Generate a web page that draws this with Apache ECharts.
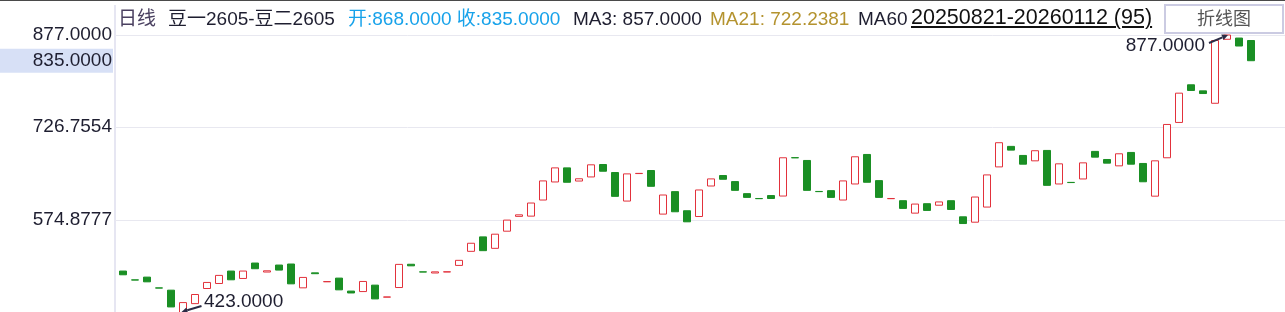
<!DOCTYPE html>
<html><head><meta charset="utf-8">
<script src="https://cdn.jsdelivr.net/npm/echarts@6/dist/echarts.min.js"></script>
<style>
html,body{margin:0;padding:0;background:#fff;}
#wrap{position:relative;width:1285px;height:312px;overflow:hidden;font-family:"Liberation Sans","Noto Sans CJK SC",Arial,sans-serif;}
#topline{position:absolute;left:0;top:0;width:1285px;height:1px;background:#4a4a4a;}
#vline{position:absolute;left:114px;top:5px;width:2px;height:307px;background:#e6e6f2;}
#chart{position:absolute;left:0;top:0;width:1285px;height:312px;}
.h{position:absolute;top:7px;line-height:24px;font-size:19px;white-space:nowrap;color:#1e1e30;}
#range{font-size:21.5px;top:5px;color:#111;text-decoration:underline;text-decoration-thickness:1.5px;text-underline-offset:2px;}
#btn{position:absolute;left:1164px;top:4px;width:116px;height:26px;border:2px solid #cbcbe2;background:#fff;color:#555;font-size:18px;line-height:26px;text-align:center;}
</style></head>
<body>
<div id="wrap">
  <div id="vline"></div>
  <div id="chart"></div>
  <div id="topline"></div>
  <div class="h" id="hPeriod" style="left:118px;color:#4a4060;"></div>
  <div class="h" id="hName" style="left:168px;"></div>
  <div class="h" id="hOC" style="left:348px;color:#17a2ea;"></div>
  <div class="h" id="hMA3" style="left:573px;"></div>
  <div class="h" id="hMA21" style="left:710px;color:#b4932f;"></div>
  <div class="h" id="hMA60" style="left:858px;"></div>
  <div class="h" id="range" style="left:911px;"></div>
  <div id="btn"></div>
</div>
<script>
// ---------- data ----------
const dates = [
 '20250821','20250822','20250825','20250826','20250827','20250828','20250829',
 '20250901','20250902','20250903','20250904','20250905','20250908','20250909','20250910','20250911','20250912',
 '20250915','20250916','20250917','20250918','20250919','20250922','20250923','20250924','20250925','20250926','20250929','20250930',
 '20251009','20251010','20251013','20251014','20251015','20251016','20251017','20251020','20251021','20251022','20251023','20251024',
 '20251027','20251028','20251029','20251030','20251031',
 '20251103','20251104','20251105','20251106','20251107','20251110','20251111','20251112','20251113','20251114',
 '20251117','20251118','20251119','20251120','20251121','20251124','20251125','20251126','20251127','20251128',
 '20251201','20251202','20251203','20251204','20251205','20251208','20251209','20251210','20251211','20251212',
 '20251215','20251216','20251217','20251218','20251219','20251222','20251223','20251224','20251225','20251226',
 '20251229','20251230','20251231',
 '20260105','20260106','20260107','20260108','20260109','20260112'
];
const opens = [
 491.5,477.1,481.6,464.0,460.3,423.0,438.3,463.0,471.2,491.5,
 479.4,504.6,489.9,501.3,503.0,464.1,488.6,474.0,480.0,458.8,
 458.0,468.5,448.9,464.6,502.6,490.2,488.3,490.0,500.7,523.7,
 547.3,528.6,556.6,580.8,581.2,607.5,637.0,660.0,638.5,645.2,
 665.5,652.4,605.8,650.7,655.7,584.5,621.2,590.0,580.6,630.4,
 647.5,637.6,617.9,610.0,614.8,614.0,676.7,672.1,621.5,622.8,
 607.5,633.7,681.9,639.2,609.7,606.4,586.1,601.5,599.0,606.4,
 580.1,571.3,596.0,661.6,695.1,680.3,671.5,688.5,633.7,636.3,
 641.9,686.9,673.7,663.3,685.2,667.2,613.8,676.5,734.2,795.7,
 785.8,765.5,870.0,872.0,868.0
];
const closes = [
 485.4,476.8,473.9,463.7,432.9,440.0,453.2,472.9,484.4,477.2,
 491.5,495.3,491.9,493.1,470.6,481.1,487.2,474.3,460.8,455.7,
 474.5,446.0,449.2,502.4,500.0,489.9,490.2,490.3,509.0,536.9,
 524.8,551.7,574.7,583.3,602.6,638.7,660.0,636.5,642.2,665.0,
 654.5,613.5,650.2,651.0,629.9,615.7,588.3,571.9,623.9,642.0,
 641.4,623.3,611.8,609.7,610.0,676.5,676.4,623.3,621.2,611.8,
 638.7,678.1,636.5,611.8,610.0,593.8,600.9,590.5,604.4,592.1,
 569.1,612.4,648.5,701.1,689.0,666.0,688.0,631.5,666.6,636.0,
 668.2,677.5,667.7,683.0,666.0,637.3,671.5,730.9,782.0,786.4,
 781.4,868.0,877.0,859.0,835.0
];
const yGridValues = [574.8777, 726.7554];
const yLabelValues = [574.8777, 726.7554, 835.0, 877.0];
const yMin = 423.0, yMax = 877.0;
const currentValue = 835.0;
const header = {
  period: '日线',
  name: '豆一2605-豆二2605',
  oc: '开:868.0000 收:835.0000',
  ma3: 'MA3: 857.0000',
  ma21: 'MA21: 722.2381',
  ma60: 'MA60',
  range: '20250821-20260112 (95)',
  button: '折线图'
};

// ---------- header text ----------
document.getElementById('hPeriod').textContent = header.period;
document.getElementById('hName').textContent = header.name;
document.getElementById('hOC').textContent = header.oc;
document.getElementById('hMA3').textContent = header.ma3;
document.getElementById('hMA21').textContent = header.ma21;
document.getElementById('hMA60').textContent = header.ma60;
document.getElementById('range').textContent = header.range;
document.getElementById('btn').textContent = header.button;

// ---------- chart ----------
const UP = '#e2323c', DOWN = '#1a8f24', TXT = '#1e1e30', GRID = '#e8e8f0';
const FONT = '"Liberation Sans","Noto Sans CJK SC",Arial,sans-serif';
const kdata = opens.map((o, i) => [o, closes[i], Math.min(o, closes[i]), Math.max(o, closes[i])]);

const chart = echarts.init(document.getElementById('chart'), null, {renderer: 'canvas'});
const option = {
  animation: false,
  grid: [
    {left: 117, right: 28, top: 35, height: 278, containLabel: false, outerBoundsMode: 'none'},
    {left: 115, right: 0, top: 35, height: 278, containLabel: false, outerBoundsMode: 'none'}
  ],
  xAxis: [
    {type: 'category', gridIndex: 0, data: dates, show: false, boundaryGap: true},
    {type: 'value', gridIndex: 1, min: 0, max: 1, position: 'top',
     axisLine: {show: true, onZero: false, lineStyle: {color: GRID, width: 1}},
     axisTick: {show: false}, axisLabel: {show: false}, splitLine: {show: false}}
  ],
  yAxis: [
    {type: 'value', gridIndex: 0, min: yMin, max: yMax, show: false},
    {type: 'value', gridIndex: 1, min: yMin, max: yMax, interval: 151.8777,
     axisLine: {show: false},
     axisTick: {show: false, customValues: yGridValues},
     splitLine: {show: true, lineStyle: {color: GRID, width: 1}},
     axisLabel: {
       customValues: yLabelValues,
       margin: 2,
       fontSize: 19, fontFamily: FONT, color: TXT,
       formatter: v => (Math.abs(v - currentValue) < 1e-6) ? '{hl|' + v.toFixed(4) + '}' : '{n|' + v.toFixed(4) + '}',
       rich: {
         n: {fontSize: 19, fontFamily: FONT, color: TXT, padding: [0, 1, 0, 0]},
         hl: {fontSize: 19, fontFamily: FONT, color: TXT, backgroundColor: '#d7e0f6',
              padding: [3, 1, 2, 33], lineHeight: 19}
       }
     }}
  ],
  series: [{
    type: 'candlestick',
    xAxisIndex: 0, yAxisIndex: 0,
    data: kdata,
    barWidth: 8,
    clip: false,
    itemStyle: {color: '#ffffff', color0: DOWN, borderColor: UP, borderColor0: DOWN, borderWidth: 1}
  }]
};
chart.setOption(option);

// ---------- extreme annotations (positions from the chart's own scales) ----------
let minIdx = 0, maxIdx = 0;
kdata.forEach((d, i) => { if (d[2] < kdata[minIdx][2]) minIdx = i; if (d[3] > kdata[maxIdx][3]) maxIdx = i; });
const pMin = chart.convertToPixel({seriesIndex: 0}, [minIdx, kdata[minIdx][2]]);
const pMax = chart.convertToPixel({seriesIndex: 0}, [maxIdx, kdata[maxIdx][3]]);
const AC = '#2b2b45';
function arrowEls(tail, tip) {
  const dx = tip[0] - tail[0], dy = tip[1] - tail[1];
  const L = Math.hypot(dx, dy), ux = dx / L, uy = dy / L, nx = -uy, ny = ux;
  const bx = tip[0] - ux * 6, by = tip[1] - uy * 6;
  return [
    {type: 'line', shape: {x1: tail[0], y1: tail[1], x2: bx, y2: by}, style: {stroke: AC, lineWidth: 2}, z: 100},
    {type: 'polygon', shape: {points: [[tip[0], tip[1]], [bx + nx * 3, by + ny * 3], [bx - nx * 3, by - ny * 3]]}, style: {fill: AC}, z: 100}
  ];
}
const g = [];
g.push(...arrowEls([pMin[0] + 18.5, pMin[1] - 7], [pMin[0] - 1.5, pMin[1] - 1]));
g.push({type: 'text', z: 100, style: {text: kdata[minIdx][2].toFixed(4), x: pMin[0] + 21, y: pMin[1] - 11,
  fill: TXT, font: '19px ' + FONT, textAlign: 'left', textVerticalAlign: 'middle'}});
g.push(...arrowEls([pMax[0] - 18, pMax[1] + 8], [pMax[0] + 1, pMax[1]]));
g.push({type: 'text', z: 100, style: {text: kdata[maxIdx][3].toFixed(4), x: pMax[0] - 22, y: pMax[1] + 11,
  fill: TXT, font: '19px ' + FONT, textAlign: 'right', textVerticalAlign: 'middle'}});
chart.setOption({graphic: g});
</script>
</body></html>
